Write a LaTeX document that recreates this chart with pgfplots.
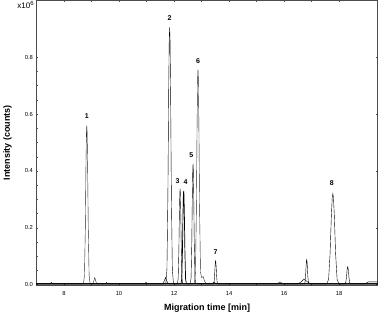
\documentclass[border=0pt]{standalone}
\usepackage{pgfplots}
\pgfplotsset{compat=1.18}
\usepackage{fontspec}
\setmainfont{Liberation Sans}
\begin{document}
\begin{tikzpicture}
\begin{axis}[
  scale only axis,
  width=341pt, height=285pt,
  xmin=7, xmax=19.4, ymin=-0.003, ymax=1.0,
  xtick={8,10,12,14,16,18},
  minor x tick num=1,
  ytick={0,0.2,0.4,0.6,0.8},
  minor y tick num=3,
  yticklabel style={/pgf/number format/fixed,/pgf/number format/fixed zerofill,/pgf/number format/precision=1},
  scaled y ticks=false,
  /pgf/number format/assume math mode=true,
  tick label style={font=\fontsize{5.8}{6}\selectfont},
  xticklabel style={yshift=-2.5pt},
  tick align=inside,
  major tick length=2pt, minor tick length=1.2pt,
  axis line style={draw=black!70, line width=0.6pt},
  every tick/.style={black!70, line width=0.4pt},
  xlabel={\bfseries Migration time [min]},
  ylabel={\bfseries Intensity (counts)},
  label style={font=\fontsize{9}{10}\selectfont},
  xlabel style={yshift=-1pt},
  ylabel style={at={(axis description cs:-0.062,0.5)}, anchor=south},
  clip=true,
  cycle list={{black!85, mark=none, solid, line width=0.7pt, line join=round}},
]
% Trace A: peak 1 + blip
\addplot coordinates {(7,.003)(8.71,.003)(8.746,.034)(8.776,.196)(8.80,.42)(8.818,.538)(8.83,.56)(8.842,.538)(8.86,.42)(8.884,.196)(8.914,.034)(8.95,.003)(9.05,.003)(9.09,.015)(9.12,.025)(9.15,.015)(9.19,.003)(19.4,.003)};
% Trace B: peak 2 + 18.31
\addplot coordinates {(7,.003)(11.70,.003)(11.742,.054)(11.777,.317)(11.805,.679)(11.826,.869)(11.84,.905)(11.854,.869)(11.875,.679)(11.903,.317)(11.938,.054)(11.98,.003)(18.21,.003)(18.24,.008)(18.265,.026)(18.285,.05)(18.30,.06)(18.31,.063)(18.32,.06)(18.335,.05)(18.355,.026)(18.38,.008)(18.41,.003)(19.4,.003)};
% Trace C: bump 11.69 + peak 3
\addplot coordinates {(7,.003)(11.58,.003)(11.64,.012)(11.69,.025)(11.74,.012)(11.80,.003)(12.12,.003)(12.15,.02)(12.175,.118)(12.195,.253)(12.21,.324)(12.22,.337)(12.23,.324)(12.245,.253)(12.265,.118)(12.29,.02)(12.32,.003)(19.4,.003)};
% Trace D: peak 4 + blip 7.55
\addplot coordinates {(7,.003)(7.50,.003)(7.55,.007)(7.60,.003)(12.25,.003)(12.28,.02)(12.305,.116)(12.325,.248)(12.34,.317)(12.35,.33)(12.36,.317)(12.375,.248)(12.395,.116)(12.42,.02)(12.45,.003)(19.4,.003)};
% Trace E: peak 5 + blips
\addplot coordinates {(7,.003)(9.50,.003)(9.55,.008)(9.60,.003)(10.93,.003)(10.98,.008)(11.03,.003)(12.59,.003)(12.62,.025)(12.645,.148)(12.665,.318)(12.68,.407)(12.69,.424)(12.70,.407)(12.715,.318)(12.735,.148)(12.76,.025)(12.79,.003)(19.4,.003)};
% Trace F: peak 6 + tail + 15.85
\addplot coordinates {(7,.003)(12.74,.003)(12.779,.045)(12.8115,.265)(12.8375,.568)(12.857,.727)(12.87,.757)(12.883,.727)(12.9025,.568)(12.9285,.265)(12.961,.045)(13.0,.025)(13.06,.028)(13.12,.01)(13.2,.003)(15.75,.003)(15.85,.01)(15.95,.003)(19.4,.003)};
% Trace G: peak 7 + 16.82
\addplot coordinates {(7,.003)(13.43,.003)(13.454,.008)(13.474,.033)(13.49,.064)(13.502,.081)(13.51,.084)(13.518,.081)(13.53,.064)(13.546,.033)(13.566,.008)(13.59,.003)(16.73,.003)(16.757,.008)(16.7795,.031)(16.7975,.066)(16.811,.084)(16.82,.088)(16.829,.084)(16.8425,.066)(16.8605,.031)(16.883,.008)(16.91,.003)(19.4,.003)};
% Trace H: peak 8 + bumps
\addplot coordinates {(7,.003)(13.38,.003)(13.45,.01)(13.52,.003)(16.50,.003)(16.62,.01)(16.72,.02)(16.82,.012)(16.95,.003)(17.55,.003)(17.616,.019)(17.671,.112)(17.715,.24)(17.748,.307)(17.77,.32)(17.792,.307)(17.825,.24)(17.869,.112)(17.924,.019)(17.99,.003)(18.95,.003)(19.05,.01)(19.4,.01)};
% peak labels
\tikzset{pl/.style={font=\bfseries\fontsize{7}{8}\selectfont, inner sep=0pt}}
\node[pl] at (axis cs:8.83,0.593) {1};
\node[pl] at (axis cs:11.84,0.937) {2};
\node[pl] at (axis cs:12.13,0.366) {3};
\node[pl] at (axis cs:12.42,0.361) {4};
\node[pl] at (axis cs:12.63,0.454) {5};
\node[pl] at (axis cs:12.87,0.786) {6};
\node[pl] at (axis cs:13.51,0.115) {7};
\node[pl] at (axis cs:17.73,0.358) {8};
\end{axis}
\node[font=\fontsize{8}{9}\selectfont, anchor=north east, inner sep=0pt] at ([xshift=-2pt,yshift=-1pt]current axis.north west) {x10\textsuperscript{6}};
\end{tikzpicture}
\end{document}
